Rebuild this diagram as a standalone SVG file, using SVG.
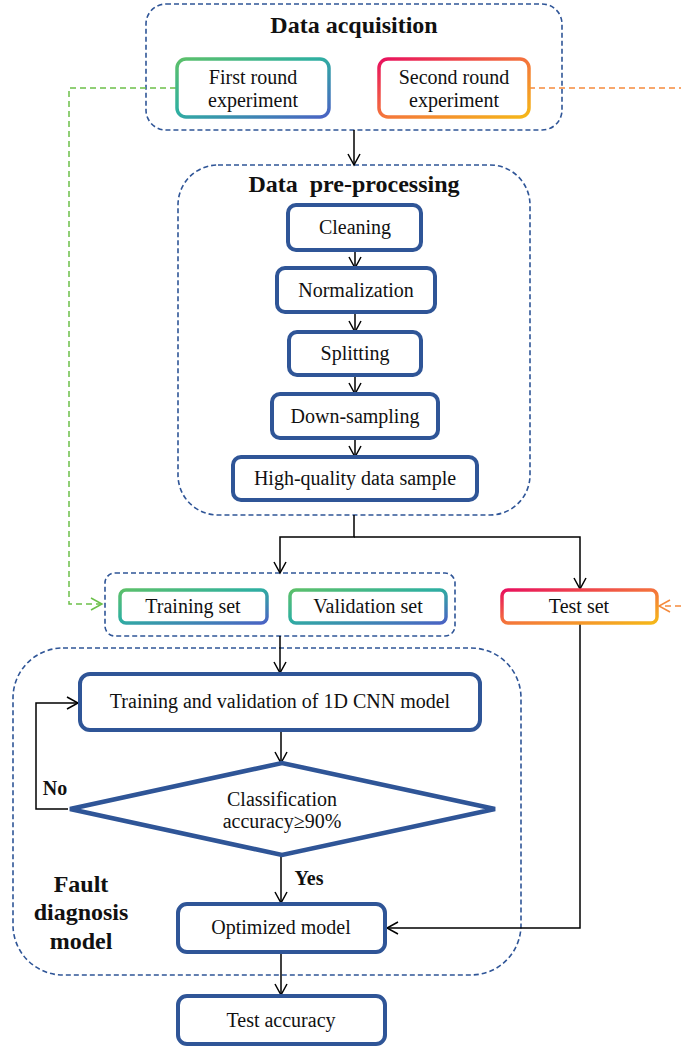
<svg xmlns="http://www.w3.org/2000/svg" width="681" height="1048" viewBox="0 0 681 1048">
<defs>
<linearGradient id="gBlue" x1="0" y1="0" x2="1" y2="1">
<stop offset="0" stop-color="#5cc06a"/>
<stop offset="0.45" stop-color="#2fb0a0"/>
<stop offset="1" stop-color="#4a62c4"/>
</linearGradient>
<linearGradient id="gWarm" x1="0" y1="0" x2="1" y2="1">
<stop offset="0" stop-color="#e8105e"/>
<stop offset="0.5" stop-color="#f4743c"/>
<stop offset="1" stop-color="#f5b818"/>
</linearGradient>
<marker id="arr" markerWidth="14" markerHeight="16" refX="12" refY="7" orient="auto" markerUnits="userSpaceOnUse">
<path d="M1,1 L12,7 L1,13" fill="none" stroke="#000" stroke-width="1.5"/>
</marker>
<marker id="arrG" markerWidth="14" markerHeight="16" refX="12" refY="7" orient="auto" markerUnits="userSpaceOnUse">
<path d="M1,1 L12,7 L1,13" fill="none" stroke="#6cc04a" stroke-width="1.5"/>
</marker>
<marker id="arrO" markerWidth="14" markerHeight="16" refX="12" refY="7" orient="auto" markerUnits="userSpaceOnUse">
<path d="M1,1 L12,7 L1,13" fill="none" stroke="#f58a3c" stroke-width="1.5"/>
</marker>
</defs>
<style>
text{font-family:"Liberation Serif","Times New Roman",serif;font-size:20px;fill:#111;text-anchor:middle}
.t{font-weight:bold;font-size:24px}
.lb{font-weight:bold;font-size:20px}
.grp{fill:none;stroke:#2f5597;stroke-width:1.6;stroke-dasharray:5 3}
.box{fill:#fff;stroke:#2f5597;stroke-width:4}
.gb{fill:#fff;stroke:url(#gBlue);stroke-width:3.5}
.gw{fill:#fff;stroke:url(#gWarm);stroke-width:3.5}
.ln{fill:none;stroke:#000;stroke-width:1.5}
.a{marker-end:url(#arr)}
</style>

<g id="groups">
<rect id="acq" x="146" y="4" width="416" height="126" rx="20" class="grp"/>
<rect id="pre" x="178" y="165" width="352" height="350" rx="40" class="grp"/>
<rect id="tv" x="105" y="573" width="350" height="63" rx="10" class="grp"/>
<rect id="fdm" x="13" y="648" width="508" height="327" rx="50" class="grp"/>
</g>

<g id="connectors">
<path d="M176,88 H69 V604 H102" fill="none" stroke="#6cc04a" stroke-width="1.5" stroke-dasharray="6 4" marker-end="url(#arrG)"/>
<path d="M529,88 H681" fill="none" stroke="#f58a3c" stroke-width="1.5" stroke-dasharray="6 4"/>
<path d="M681,606 H659" fill="none" stroke="#f58a3c" stroke-width="1.5" stroke-dasharray="6 4" marker-end="url(#arrO)"/>
<path d="M354,130 V165" class="ln a"/>
<path d="M355,250 V268" class="ln a"/>
<path d="M355,312 V332" class="ln a"/>
<path d="M355,375 V394" class="ln a"/>
<path d="M355,438 V457" class="ln a"/>
<path d="M354,515 V537 H280 V573" class="ln a"/>
<path d="M354,537 H580 V589" class="ln a"/>
<path d="M280,636 V673" class="ln a"/>
<path d="M281,730 V763" class="ln a"/>
<path d="M68,809 H36 V703 H78" class="ln a"/>
<path d="M281,855 V903" class="ln a"/>
<path d="M580,623 V928 H387" class="ln a"/>
<path d="M281,952 V995" class="ln a"/>
</g>

<g id="acq-title"><text x="354" y="33" class="t">Data acquisition</text></g>
<g id="first">
<rect x="177" y="59" width="152" height="58" rx="9" class="gb"/>
<text x="253" y="84">First round</text>
<text x="253" y="107">experiment</text>
</g>
<g id="second">
<rect x="379" y="59" width="150" height="58" rx="9" class="gw"/>
<text x="454" y="84">Second round</text>
<text x="454" y="107">experiment</text>
</g>

<g id="pre-title"><text x="354" y="192" class="t" xml:space="preserve">Data  pre-processing</text></g>
<g id="cleaning"><rect x="288" y="205" width="133" height="45" rx="8" class="box"/><text x="355" y="234">Cleaning</text></g>
<g id="normalization"><rect x="277" y="268" width="158" height="44" rx="8" class="box"/><text x="356" y="297">Normalization</text></g>
<g id="splitting"><rect x="289" y="332" width="132" height="43" rx="8" class="box"/><text x="355" y="360">Splitting</text></g>
<g id="downsampling"><rect x="272" y="394" width="166" height="44" rx="8" class="box"/><text x="355" y="423">Down-sampling</text></g>
<g id="hq"><rect x="233" y="457" width="244" height="43" rx="8" class="box"/><text x="355" y="485">High-quality data sample</text></g>

<g id="training"><rect x="120" y="590" width="147" height="33" rx="6" class="gb"/><text x="193" y="613">Training set</text></g>
<g id="validation"><rect x="290" y="590" width="156" height="33" rx="6" class="gb"/><text x="368" y="613">Validation set</text></g>
<g id="test"><rect x="502" y="590" width="155" height="33" rx="6" class="gw"/><text x="579" y="613">Test set</text></g>

<g id="cnn"><rect x="80" y="674" width="400" height="56" rx="10" class="box"/><text x="280" y="708">Training and validation of 1D CNN model</text></g>
<g id="decision">
<polygon points="70,809 282,763 495,809 282,855" fill="#fff" stroke="#2f5597" stroke-width="4.5" stroke-linejoin="miter"/>
<text x="282" y="806">Classification</text>
<text x="282" y="828">accuracy≥90%</text>
</g>
<g id="no-label"><text x="55" y="795" class="lb">No</text></g>
<g id="yes-label"><text x="309" y="885" class="lb">Yes</text></g>
<g id="fdm-title">
<text x="81" y="892" class="t">Fault</text>
<text x="81" y="920" class="t">diagnosis</text>
<text x="81" y="949" class="t">model</text>
</g>
<g id="optimized"><rect x="178" y="904" width="207" height="48" rx="9" class="box"/><text x="281" y="934">Optimized model</text></g>
<g id="testacc"><rect x="178" y="996" width="207" height="48" rx="9" class="box"/><text x="281" y="1027">Test accuracy</text></g>
</svg>
